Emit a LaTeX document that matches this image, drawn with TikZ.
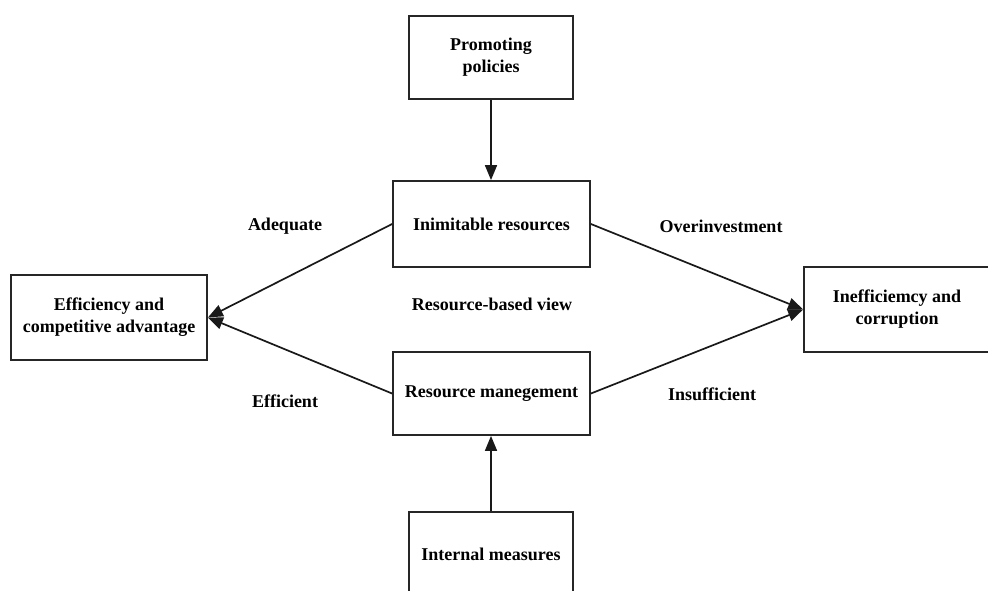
\documentclass[tikz,border=0pt]{standalone}
\usepackage{fontspec}
\setmainfont{Liberation Serif}
\usetikzlibrary{arrows.meta}
\begin{document}
\begin{tikzpicture}[x=1pt,y=-1pt,
  box/.style={draw=black!85,line width=1.8pt,align=center,inner sep=0pt,
    font=\fontsize{18}{22}\selectfont\bfseries},
  lbl/.style={inner sep=0pt,font=\fontsize{18}{22}\selectfont\bfseries},
  conn/.style={draw=black!90,line width=1.7pt,-{Triangle[length=15pt,width=12pt]}}]
\useasboundingbox (0,0) rectangle (988,590);
\node[box,minimum width=164pt,minimum height=83pt] (prom) at (491,57.5) {Promoting\\policies};
\node[box,minimum width=197pt,minimum height=86pt] (inim) at (491.5,224) {Inimitable resources};
\node[box,minimum width=196pt,minimum height=85pt] (eff) at (109,317.5) {Efficiency and\\competitive advantage};
\node[box,minimum width=186pt,minimum height=85pt] (ineff) at (897,309.5) {Inefficiemcy and\\corruption};
\node[box,minimum width=197pt,minimum height=83pt] (rm) at (491.5,393.5) {Resource manegement};
\node[box,minimum width=164pt,minimum height=84pt] (intm) at (491,554) {Internal measures};
\node[lbl] (adq) at (285,226) {Adequate};
\node[lbl] (ovr) at (721,226) {Overinvestment};
\node[lbl] (rbv) at (492,304) {Resource-based view};
\node[lbl] (efc) at (285,401) {Efficient};
\node[lbl] (ins) at (712,394) {Insufficient};
\draw[conn] (prom.south) -- (prom.south |- inim.north);
\draw[conn] (intm.north) -- (intm.north |- rm.south);
\draw[conn] (inim.west) -- (eff.east);
\draw[conn] (rm.west) -- (eff.east);
\draw[conn] (inim.east) -- (ineff.west);
\draw[conn] (rm.east) -- (ineff.west);
\end{tikzpicture}
\end{document}
